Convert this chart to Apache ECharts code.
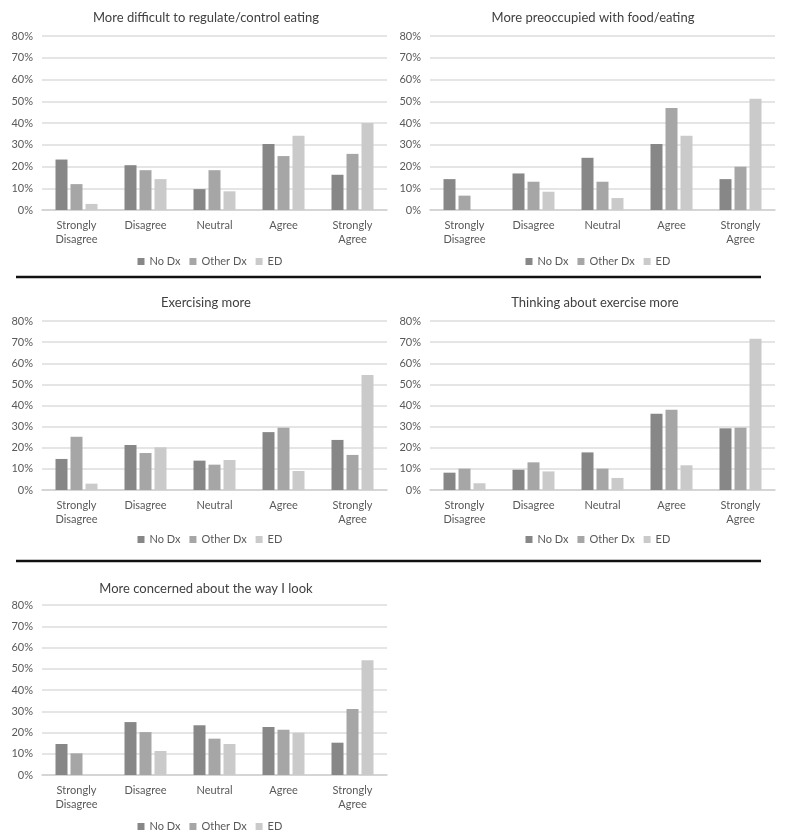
<!DOCTYPE html>
<html>
<head>
<meta charset="utf-8">
<script src="https://cdn.jsdelivr.net/npm/echarts@6/dist/echarts.min.js"></script>
<style>
html,body{margin:0;padding:0;background:#fff;}
#chart{width:793px;height:840px;}
</style>
</head>
<body>
<div id="chart"></div>
<script>
const categories = ['Strongly\nDisagree', 'Disagree', 'Neutral', 'Agree', 'Strongly\nAgree'];
const seriesNames = ['No Dx', 'Other Dx', 'ED'];
const yTickValues = [0, 10, 20, 30, 40, 50, 60, 70, 80];
const titles = [
  'More difficult to regulate/control eating',
  'More preoccupied with food/eating',
  'Exercising more',
  'Thinking about exercise more',
  'More concerned about the way I look'
];

// Chart 1: More difficult to regulate/control eating
const c1NoDx    = [23.2, 20.6, 9.6, 30.3, 16.2];
const c1OtherDx = [11.9, 18.3, 18.3, 24.8, 25.8];
const c1ED      = [2.8, 14.2, 8.6, 34.1, 40.0];
// Chart 2: More preoccupied with food/eating
const c2NoDx    = [14.2, 16.8, 24.0, 30.3, 14.2];
const c2OtherDx = [6.6, 13.0, 13.0, 46.9, 19.9];
const c2ED      = [0, 8.4, 5.5, 34.1, 51.1];
// Chart 3: Exercising more
const c3NoDx    = [14.7, 21.3, 13.9, 27.4, 23.7];
const c3OtherDx = [25.2, 17.5, 12.0, 29.5, 16.6];
const c3ED      = [3.0, 20.2, 14.2, 9.0, 54.4];
// Chart 4: Thinking about exercise more
const c4NoDx    = [8.2, 9.6, 17.8, 36.1, 29.2];
const c4OtherDx = [10.1, 13.1, 10.1, 38.0, 29.5];
const c4ED      = [3.2, 8.8, 5.7, 11.7, 71.6];
// Chart 5: More concerned about the way I look
const c5NoDx    = [14.6, 24.9, 23.4, 22.6, 15.2];
const c5OtherDx = [10.2, 20.2, 17.1, 21.3, 31.1];
const c5ED      = [0, 11.3, 14.6, 19.9, 54.0];

const chartData = [
  [c1NoDx, c1OtherDx, c1ED],
  [c2NoDx, c2OtherDx, c2ED],
  [c3NoDx, c3OtherDx, c3ED],
  [c4NoDx, c4OtherDx, c4ED],
  [c5NoDx, c5OtherDx, c5ED]
];

const colors = ['#878787', '#a6a6a6', '#cacaca'];
const FONT = 'Lato, "Open Sans", sans-serif';

// layout
const panels = [
  {left: 42, top: 36, height: 174, titleX: 201, titleY: 6, legendY: 251},
  {left: 430, top: 36, height: 174, titleX: 588, titleY: 6, legendY: 251},
  {left: 42, top: 321, height: 169, titleX: 201, titleY: 291, legendY: 529},
  {left: 430, top: 321, height: 169, titleX: 590, titleY: 291, legendY: 529},
  {left: 42, top: 605, height: 170, titleX: 201, titleY: 577, legendY: 816}
];
const plotWidth = 345;

const grid = [], xAxis = [], yAxis = [], series = [], title = [], legend = [];
panels.forEach((p, i) => {
  grid.push({left: p.left, top: p.top, width: plotWidth, height: p.height, containLabel: false});
  title.push({
    text: titles[i], left: p.titleX, top: p.titleY, textAlign: 'center',
    textStyle: {fontFamily: FONT, fontSize: 13, fontWeight: 'normal', color: '#404040'}
  });
  xAxis.push({
    type: 'category', gridIndex: i, data: categories,
    axisTick: {show: false},
    axisLine: {lineStyle: {color: '#cfcfcf', width: 1.5}},
    axisLabel: {fontFamily: FONT, fontSize: 11, color: '#595959', lineHeight: 14, margin: 8, interval: 0}
  });
  yAxis.push({
    type: 'value', gridIndex: i, min: yTickValues[0], max: yTickValues[yTickValues.length - 1], interval: 10,
    axisLine: {show: false}, axisTick: {show: false},
    splitLine: {lineStyle: {color: '#dcdcdc', width: 1.5}},
    axisLabel: {fontFamily: FONT, fontSize: 11, color: '#595959', formatter: '{value}%', margin: 9}
  });
  chartData[i].forEach((vals, s) => {
    series.push({
      type: 'bar', name: seriesNames[s], xAxisIndex: i, yAxisIndex: i,
      data: vals, barWidth: 12, barGap: '25%',
      itemStyle: {color: colors[s]}, emphasis: {disabled: true}
    });
  });
  legend.push({
    data: seriesNames, left: p.left + plotWidth / 2 - 82, top: p.legendY, itemWidth: 7, itemHeight: 7,
    itemGap: 9, icon: 'rect', textStyle: {fontFamily: FONT, fontSize: 11, color: '#595959'},
    selectedMode: false
  });
});

const option = {
  animation: false,
  backgroundColor: '#ffffff',
  title, legend, grid, xAxis, yAxis, series,
  graphic: [
    {type: 'line', shape: {x1: 16, y1: 277, x2: 761, y2: 277}, style: {stroke: '#111', lineWidth: 2.5}},
    {type: 'line', shape: {x1: 16, y1: 561, x2: 761, y2: 561}, style: {stroke: '#111', lineWidth: 2.5}}
  ]
};
const chart = echarts.init(document.getElementById('chart'), null, {renderer: 'canvas'});
chart.setOption(option);
</script>
</body>
</html>
